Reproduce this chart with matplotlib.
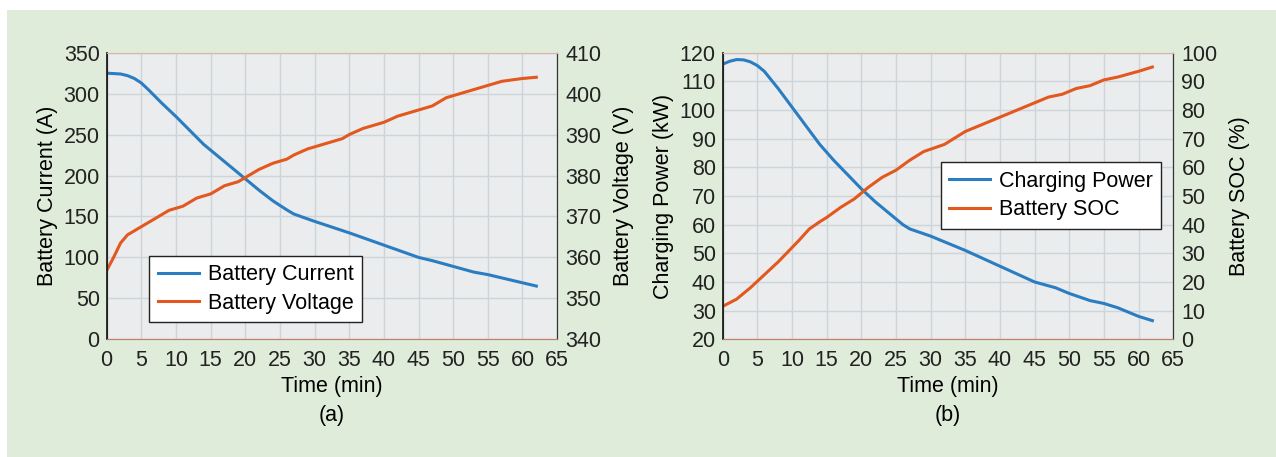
import matplotlib.pyplot as plt

plt.rcParams['font.family'] = ['Liberation Sans', 'DejaVu Sans']

# (a) battery current and voltage
t_cur = [0, 2, 3, 4, 5, 6, 8, 10, 12, 14, 16, 18, 20, 22, 24, 26, 27, 30, 35,
         40, 45, 47, 50, 53, 55, 57, 60, 62]
current = [325, 324, 322, 318.5, 313, 305, 288, 272, 255, 238, 224, 210, 196,
           182, 169, 158, 153, 144, 130, 115, 100, 96, 89, 82, 79, 75, 69, 65]

t_volt = [0, 1, 2, 3, 5, 7, 9, 11, 13, 15, 17, 19, 20, 22, 24, 26, 27, 29,
          31, 34, 35, 37, 40, 42, 44, 47, 49, 52, 55, 57, 60, 62]
voltage = [356.8, 360, 363.5, 365.5, 367.5, 369.5, 371.5, 372.5, 374.5,
           375.5, 377.5, 378.5, 379.5, 381.5, 383, 384, 385, 386.5, 387.5,
           389, 390, 391.5, 393, 394.5, 395.5, 397, 399, 400.5, 402, 403,
           403.7, 404]

# (b) charging power and SOC
t_pow = [0, 1, 2, 3, 4, 5, 6, 8, 10, 12, 14, 16, 18, 20, 22, 24, 26, 27, 30,
         35, 40, 45, 48, 50, 53, 55, 57, 60, 62]
power = [116, 117, 117.6, 117.5, 116.8, 115.5, 113.5, 107.5, 101, 94.5, 88,
         82.5, 77.5, 72.5, 68, 64, 60, 58.5, 56, 51, 45.5, 40, 38, 36, 33.5,
         32.5, 31, 28, 26.5]

t_soc = [0, 2, 4, 6, 8, 10, 11, 12.5, 14, 15, 17, 19, 21, 23, 25, 27, 29, 32,
         34, 35, 38, 40, 43, 45, 47, 49, 51, 53, 55, 57, 60, 62]
soc = [11.5, 14, 18, 22.5, 27, 32, 34.5, 38.5, 41, 42.5, 46, 49, 53, 56.5, 59,
       62.5, 65.5, 68, 71, 72.5, 75.5, 77.5, 80.5, 82.5, 84.5, 85.5, 87.5,
       88.5, 90.5, 91.5, 93.5, 95]

x_ticks = list(range(0, 70, 5))
blue = '#2a7dc1'
orange = '#e2581f'
fs = 15.5

fig = plt.figure(figsize=(12.76, 4.57), dpi=100)
fig.patch.set_facecolor('white')
fig.patches.append(plt.Rectangle((7 / 1276, 0), 1, 1 - 10 / 457,
                                 transform=fig.transFigure,
                                 facecolor='#dfecda', edgecolor='none',
                                 zorder=-10))


def make_panel(left, ax_left_lim, ax_left_ticks, ax_right_lim, ax_right_ticks,
               tl, yl, tr, yr, lab_l, lab_r, name_l, name_r, leg_pos, caption):
    ax = fig.add_axes([left, 0.2576, 0.3530, 0.6271])
    ax.set_facecolor('#eaeced')
    ax.set_xlim(0, 65)
    ax.set_ylim(*ax_left_lim)
    ax.set_xticks(x_ticks)
    ax.set_yticks(ax_left_ticks)
    ax.grid(True, color='#cdd5d9', linewidth=1.0)
    ax.set_axisbelow(True)
    ax.tick_params(length=0, labelsize=fs, pad=5, colors='#222222')
    ax.tick_params(axis='x', pad=8)
    ax.set_xlabel('Time (min)', fontsize=fs, labelpad=3)
    ax.set_ylabel(lab_l, fontsize=fs, labelpad=4)
    l1, = ax.plot(tl, yl, color=blue, linewidth=2.2, label=name_l)

    ax2 = ax.twinx()
    ax2.set_ylim(*ax_right_lim)
    ax2.set_yticks(ax_right_ticks)
    ax2.tick_params(length=0, labelsize=fs, pad=6, colors='#222222')
    ax2.set_ylabel(lab_r, fontsize=fs, labelpad=8)
    l2, = ax2.plot(tr, yr, color=orange, linewidth=2.2, label=name_r)

    for a in (ax, ax2):
        a.spines['left'].set_color('#222222')
        a.spines['right'].set_color('#333333')
        a.spines['top'].set_color('#d9b7aa')
        a.spines['bottom'].set_color('#c0806a')
    ax.spines['left'].set_linewidth(1.3)

    leg = ax2.legend(handles=[l1, l2], loc='lower left',
                     bbox_to_anchor=leg_pos, fontsize=fs, frameon=True,
                     fancybox=False, edgecolor='#222222', framealpha=1,
                     handlelength=1.9, handletextpad=0.4, borderpad=0.4,
                     labelspacing=0.35, borderaxespad=0)
    leg.get_frame().set_linewidth(1.0)

    fig.text(left + 0.3530 / 2, 1 - 415 / 457, caption, ha='center',
             va='center', fontsize=fs)


make_panel(0.0836, (0, 350), range(0, 351, 50), (340, 410),
           range(340, 411, 10), t_cur, current, t_volt, voltage,
           'Battery Current (A)', 'Battery Voltage (V)',
           'Battery Current', 'Battery Voltage', (0.095, 0.059), '(a)')

make_panel(0.5664, (20, 120), range(20, 121, 10), (0, 100),
           range(0, 101, 10), t_pow, power, t_soc, soc,
           'Charging Power (kW)', 'Battery SOC (%)',
           'Charging Power', 'Battery SOC', (0.484, 0.386), '(b)')

plt.savefig('out.png', dpi=100, facecolor=fig.get_facecolor())
